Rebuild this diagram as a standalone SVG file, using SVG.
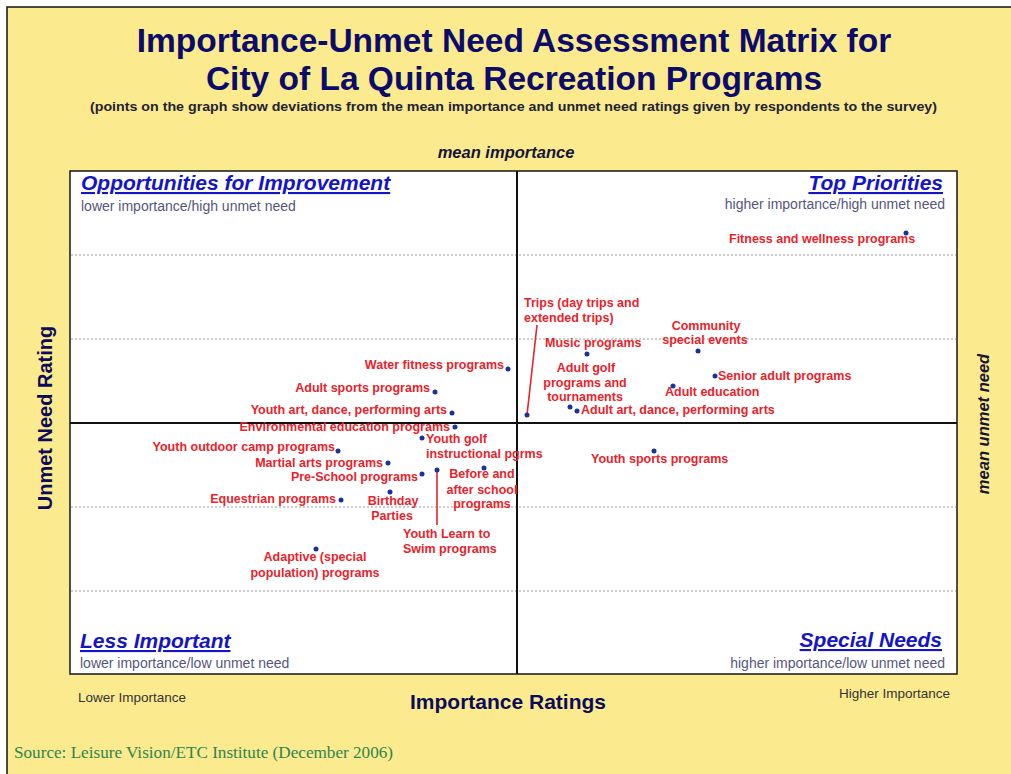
<svg xmlns="http://www.w3.org/2000/svg" width="1011" height="774" viewBox="0 0 1011 774">
<style>
.title{font-family:"Liberation Sans",Arial,sans-serif;font-weight:bold;font-size:33.5px;fill:#0B0B6B;text-anchor:middle}
.sub{font-family:"Liberation Sans",Arial,sans-serif;font-weight:bold;font-size:12.5px;fill:#222233}
.axis{font-family:"Liberation Sans",Arial,sans-serif;font-weight:bold;fill:#0B0B5B}
.mean{font-family:"Liberation Sans",Arial,sans-serif;font-weight:bold;font-style:italic;font-size:16.5px;fill:#15153A}
.quad{font-family:"Liberation Sans",Arial,sans-serif;font-weight:bold;font-style:italic;font-size:21px;fill:#1414C8;text-decoration:underline}
.qsub{font-family:"Liberation Sans",Arial,sans-serif;font-size:14px;fill:#56567E}
.end{font-family:"Liberation Sans",Arial,sans-serif;font-size:13.5px;fill:#333333}
.lbl{font-family:"Liberation Sans",Arial,sans-serif;font-weight:bold;font-size:12.5px;fill:#E8232B}
.r{text-anchor:end}
.m{text-anchor:middle}
.dot{fill:#1A3399}
.grid{stroke:#9A9A9A;stroke-width:1.2;stroke-dasharray:2 2;fill:none}
.leader{stroke:#E8232B;stroke-width:1.6;fill:none}
</style>
<rect x="0" y="0" width="1011" height="774" fill="#FFFFFF"/>
<rect x="7" y="7" width="1012" height="775" fill="#FCEB8E" stroke="#111111" stroke-width="1.5"/>

<g id="header">
<text class="title" x="514" y="52">Importance-Unmet Need Assessment Matrix for</text>
<text class="title" x="514" y="90">City of La Quinta Recreation Programs</text>
<text class="sub" x="90" y="111" textLength="847" lengthAdjust="spacingAndGlyphs">(points on the graph show deviations from the mean importance and unmet need ratings given by respondents to the survey)</text>
<text class="mean m" x="506" y="158">mean importance</text>
</g>

<g id="plot">
<rect x="70" y="171" width="887" height="503" fill="#FFFFFF" stroke="#222222" stroke-width="1.6"/>
<line class="grid" x1="71" y1="255" x2="956" y2="255"/>
<line class="grid" x1="71" y1="339" x2="956" y2="339"/>
<line class="grid" x1="71" y1="507" x2="956" y2="507"/>
<line class="grid" x1="71" y1="591" x2="956" y2="591"/>
<line x1="70" y1="423" x2="957" y2="423" stroke="#111111" stroke-width="2"/>
<line x1="517" y1="171" x2="517" y2="674" stroke="#111111" stroke-width="2"/>
</g>

<g id="quadrants">
<text class="quad" x="81" y="190">Opportunities for Improvement</text>
<text class="qsub" x="81" y="211">lower importance/high unmet need</text>
<text class="quad r" x="943" y="190">Top Priorities</text>
<text class="qsub r" x="945" y="209">higher importance/high unmet need</text>
<text class="quad" x="80" y="648">Less Important</text>
<text class="qsub" x="80" y="668">lower importance/low unmet need</text>
<text class="quad r" x="942" y="647">Special Needs</text>
<text class="qsub r" x="945" y="668">higher importance/low unmet need</text>
</g>

<g id="axes">
<text class="end" x="78" y="702">Lower Importance</text>
<text class="end r" x="950" y="698">Higher Importance</text>
<text class="axis m" x="508" y="709" font-size="21px">Importance Ratings</text>
<text class="axis m" transform="translate(52,418) rotate(-90)" font-size="20px">Unmet Need Rating</text>
<text class="mean m" transform="translate(989,424) rotate(-90)">mean unmet need</text>
<text x="14" y="758" font-family="'Liberation Serif','Times New Roman',serif" font-size="16px" fill="#2E8550" textLength="379" lengthAdjust="spacingAndGlyphs">Source:  Leisure Vision/ETC Institute (December 2006)</text>
</g>

<g id="connectors">
<line class="leader" x1="527" y1="415" x2="537" y2="325"/>
<line class="leader" x1="437" y1="471" x2="437" y2="525"/>
</g>

<g id="fitness"><circle class="dot" cx="906" cy="233" r="2.5"/><text class="lbl" x="729" y="243">Fitness and wellness programs</text></g>
<g id="trips"><circle class="dot" cx="527" cy="415" r="2.5"/><text class="lbl" x="524" y="307">Trips (day trips and</text><text class="lbl" x="524" y="322">extended trips)</text></g>
<g id="music"><circle class="dot" cx="587" cy="354" r="2.5"/><text class="lbl" x="545" y="347">Music programs</text></g>
<g id="community"><circle class="dot" cx="698" cy="351" r="2.5"/><text class="lbl m" x="706" y="330">Community</text><text class="lbl m" x="705" y="344">special events</text></g>
<g id="senior"><circle class="dot" cx="715" cy="376" r="2.5"/><text class="lbl" x="718" y="380">Senior adult programs</text></g>
<g id="adult-education"><circle class="dot" cx="673" cy="386" r="2.5"/><text class="lbl" x="665" y="396">Adult education</text></g>
<g id="adult-golf"><circle class="dot" cx="570" cy="407" r="2.5"/><text class="lbl m" x="586" y="372">Adult golf</text><text class="lbl m" x="585" y="387">programs and</text><text class="lbl m" x="585" y="401">tournaments</text></g>
<g id="adult-art"><circle class="dot" cx="577" cy="411" r="2.5"/><text class="lbl" x="581" y="414">Adult art, dance, performing arts</text></g>
<g id="youth-sports"><circle class="dot" cx="654" cy="451" r="2.5"/><text class="lbl" x="591" y="463">Youth sports programs</text></g>
<g id="water-fitness"><circle class="dot" cx="508" cy="369" r="2.5"/><text class="lbl r" x="504" y="369">Water fitness programs</text></g>
<g id="adult-sports"><circle class="dot" cx="435" cy="392" r="2.5"/><text class="lbl r" x="430" y="392">Adult sports programs</text></g>
<g id="youth-art"><circle class="dot" cx="452" cy="413" r="2.5"/><text class="lbl r" x="447" y="414">Youth art, dance, performing arts</text></g>
<g id="environmental"><circle class="dot" cx="455" cy="427" r="2.5"/><text class="lbl r" x="450" y="431">Environmental education programs</text></g>
<g id="youth-golf"><circle class="dot" cx="422" cy="438" r="2.5"/><text class="lbl" x="426" y="443">Youth golf</text><text class="lbl" x="426" y="458">instructional pgrms</text></g>
<g id="youth-outdoor"><circle class="dot" cx="338" cy="451" r="2.5"/><text class="lbl r" x="335" y="451">Youth outdoor camp programs</text></g>
<g id="martial-arts"><circle class="dot" cx="388" cy="463" r="2.5"/><text class="lbl r" x="383" y="467">Martial arts programs</text></g>
<g id="pre-school"><circle class="dot" cx="422" cy="474" r="2.5"/><text class="lbl r" x="418" y="481">Pre-School programs</text></g>
<g id="youth-swim"><circle class="dot" cx="437" cy="470" r="2.5"/><text class="lbl" x="403" y="538">Youth Learn to</text><text class="lbl" x="403" y="553">Swim programs</text></g>
<g id="before-after"><circle class="dot" cx="484" cy="468" r="2.5"/><text class="lbl m" x="482" y="478">Before and</text><text class="lbl m" x="482" y="494">after school</text><text class="lbl m" x="482" y="508">programs</text></g>
<g id="birthday"><circle class="dot" cx="390" cy="492" r="2.5"/><text class="lbl m" x="393" y="505">Birthday</text><text class="lbl m" x="392" y="520">Parties</text></g>
<g id="equestrian"><circle class="dot" cx="341" cy="500" r="2.5"/><text class="lbl r" x="336" y="503">Equestrian programs</text></g>
<g id="adaptive"><circle class="dot" cx="316" cy="549" r="2.5"/><text class="lbl m" x="315" y="561">Adaptive (special</text><text class="lbl m" x="315" y="577">population) programs</text></g>
</svg>
